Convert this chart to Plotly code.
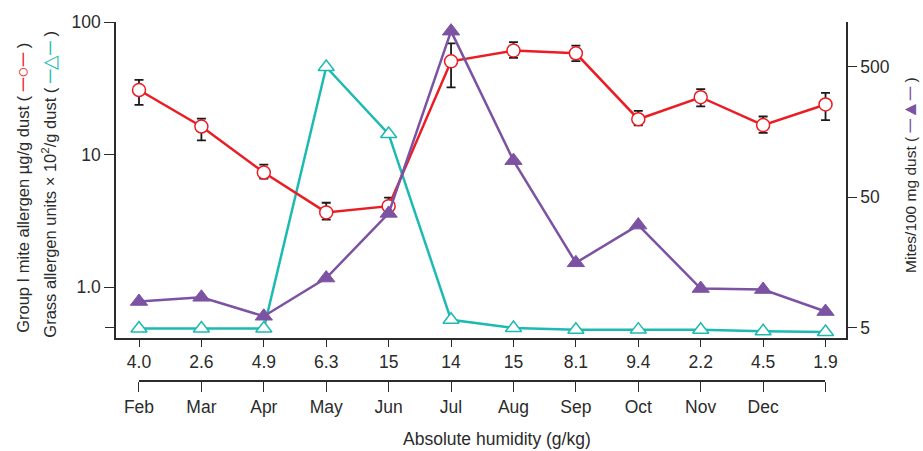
import plotly.graph_objects as go

# Monthly dust survey: allergen levels and mite counts
months = ["Feb", "Mar", "Apr", "May", "Jun", "Jul", "Aug", "Sep", "Oct", "Nov", "Dec"]
humidity = ["4.0", "2.6", "4.9", "6.3", "15", "14", "15", "8.1", "9.4", "2.2", "4.5", "1.9"]

# Group I mite allergen (µg/g dust) with upper / lower error limits
mite_allergen = [30.7, 16.3, 7.33, 3.67, 4.09, 50.5, 60.9, 58.1, 18.5, 27.1, 16.7, 23.9]
mite_upper = [36.6, 18.7, 8.4, 4.34, 4.75, 69.0, 70.6, 66.4, 21.4, 31.2, 19.4, 29.2]
mite_lower = [23.7, 12.8, 6.6, 3.24, 3.6, 32.1, 53.7, 50.7, 16.6, 23.1, 14.6, 18.2]

# Grass allergen units x 10^2 / g dust
grass_allergen = [0.49, 0.49, 0.49, 45.8, 14.3, 0.569, 0.493, 0.479, 0.48, 0.479, 0.466, 0.46]

# Mites per 100 mg dust (right axis)
mites = [7.94, 8.55, 6.12, 12.0, 37.5, 930, 95, 15.7, 30.5, 9.98, 9.8, 6.65]

RED = "#EC1C24"
CYAN = "#1DBAB2"
PURPLE = "#7C52A3"
INK = "#2b2b2b"
FONT = "Arial, Liberation Sans, sans-serif"

pos = list(range(len(humidity)))
month_pos = list(range(len(months)))

fig = go.Figure()

fig.add_trace(go.Scatter(
    x=pos, y=grass_allergen, mode="lines+markers", xaxis="x", yaxis="y",
    line=dict(color=CYAN, width=2.5),
    marker=dict(symbol="triangle-up", size=14, color="white",
                line=dict(color=CYAN, width=1.5)),
    showlegend=False, hoverinfo="skip"))

fig.add_trace(go.Scatter(
    x=pos, y=mites, mode="lines+markers", xaxis="x", yaxis="y2",
    line=dict(color=PURPLE, width=2.5),
    marker=dict(symbol="triangle-up", size=15, color=PURPLE,
                line=dict(color=PURPLE, width=1)),
    showlegend=False, hoverinfo="skip"))

fig.add_trace(go.Scatter(
    x=pos, y=mite_allergen, mode="lines+markers", xaxis="x", yaxis="y",
    line=dict(color=RED, width=2.5),
    marker=dict(symbol="circle", size=13, color="white",
                line=dict(color=RED, width=1.5)),
    error_y=dict(type="data", symmetric=False,
                 array=[u - v for u, v in zip(mite_upper, mite_allergen)],
                 arrayminus=[v - l for v, l in zip(mite_allergen, mite_lower)],
                 color="#1a1a1a", thickness=1.8, width=4.5),
    showlegend=False, hoverinfo="skip"))

# Empty traces so the auxiliary axes (months row, unlabeled ticks) are laid out
for xa, ya in (("x2", "y"), ("x3", "y"), ("x", "y3")):
    fig.add_trace(go.Scatter(
        x=pos, y=[None] * len(pos), mode="markers", xaxis=xa, yaxis=ya,
        showlegend=False, hoverinfo="skip"))

axis_common = dict(showgrid=False, zeroline=False, showline=True,
                   linecolor=INK, linewidth=1.5, ticks="outside",
                   tickcolor=INK, tickwidth=1.3,
                   tickfont=dict(family=FONT, size=17.5, color=INK))

Y_DOMAIN = [0.1209, 1]
LEFT_RANGE = [-0.379, 2.0]
MONTH_DOMAIN = [0.0315, 0.9719]

fig.update_layout(
    width=923, height=451,
    margin=dict(l=116, r=77, t=17, b=70),
    paper_bgcolor="white", plot_bgcolor="rgba(0,0,0,0)",
    font=dict(family=FONT, color=INK),
    xaxis=dict(axis_common, domain=[0, 1], range=[-0.3685, 11.328],
               tickmode="array", tickvals=pos, ticktext=humidity,
               ticklen=8, anchor="y"),
    # month row: labelled ticks plus a closing tick at the last humidity point
    xaxis2=dict(axis_common, domain=MONTH_DOMAIN, range=[0, 11],
                tickmode="array", tickvals=month_pos, ticktext=months,
                ticklen=10, anchor="free", position=0, side="bottom"),
    xaxis3=dict(axis_common, domain=MONTH_DOMAIN, range=[0, 11],
                tickmode="array", tickvals=[11], showticklabels=False,
                showline=False, ticklen=10, anchor="free", position=0,
                side="bottom", overlaying="x2"),
    yaxis=dict(axis_common, type="log", domain=Y_DOMAIN,
               range=LEFT_RANGE, tickmode="array",
               tickvals=[1, 10, 100], ticktext=["1.0", "10", "100"],
               ticklen=10, anchor="x"),
    yaxis3=dict(axis_common, type="log", domain=Y_DOMAIN,
                range=LEFT_RANGE, tickmode="array", tickvals=[0.5],
                showticklabels=False, showline=False, ticklen=10,
                anchor="x", overlaying="y", side="left"),
    yaxis2=dict(axis_common, type="log", domain=Y_DOMAIN,
                range=[0.6235, 3.0386], tickmode="array",
                tickvals=[5, 50, 500], ticktext=["5", "50", "500"],
                ticklen=9, anchor="x", overlaying="y", side="right"),
)


def key(symbol, color):
    # small line-and-marker key drawn inline in an axis title
    return ("( <span style='color:%s;font-size:19px'>─%s─</span> )"
            % (color, symbol))


fig.add_annotation(
    xref="paper", yref="paper", x=-0.1274, y=0.538,
    xanchor="center", yanchor="middle", textangle=-90, showarrow=False,
    font=dict(family=FONT, size=16.5, color=INK),
    text="Group I mite allergen µg/g dust " + key("○", RED))

fig.add_annotation(
    xref="paper", yref="paper", x=-0.0904, y=0.547,
    xanchor="center", yanchor="middle", textangle=-90, showarrow=False,
    font=dict(family=FONT, size=16.5, color=INK),
    text="Grass allergen units × 10<sup>2</sup>/g dust " + key("△", CYAN))

fig.add_annotation(
    xref="paper", yref="paper", x=1.0877, y=0.574,
    xanchor="center", yanchor="middle", textangle=-90, showarrow=False,
    font=dict(family=FONT, size=15.5, color=INK),
    text="Mites/100 mg dust " + key("▲", PURPLE))

fig.add_annotation(
    xref="paper", yref="paper", x=0.522, y=-0.162,
    xanchor="center", yanchor="middle", showarrow=False,
    font=dict(family=FONT, size=17.5, color=INK),
    text="Absolute humidity (g/kg)")

fig.write_html("out.html")
